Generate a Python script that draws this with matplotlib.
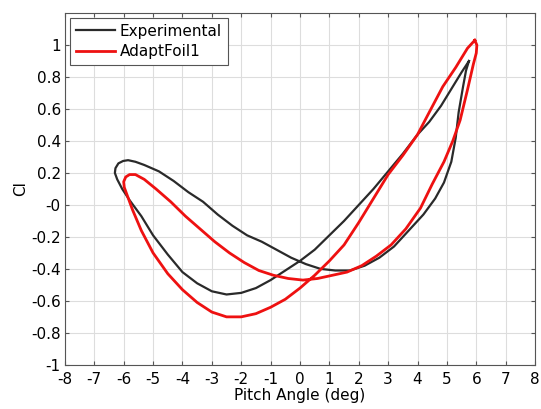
import numpy as np
import matplotlib
matplotlib.use("Agg")
import matplotlib.pyplot as plt

# Experimental loop (pitch angle, Cl), traced from the peak around the loop
exp_alpha = [5.75, 5.5, 5.2, 4.8, 4.4, 4.0, 3.5, 3.0, 2.5, 2.0, 1.5, 1.0, 0.5, 0.0,
             -0.5, -1.0, -1.5, -2.0, -2.5, -3.0, -3.5, -4.0, -4.5, -5.0, -5.4, -5.8,
             -6.05, -6.22, -6.3, -6.28, -6.18, -6.02, -5.85, -5.6, -5.3, -4.8, -4.3,
             -3.8, -3.3, -2.8, -2.3, -1.8, -1.3, -0.8, -0.3, 0.2, 0.7, 1.2, 1.7, 2.2,
             2.7, 3.2, 3.7, 4.2, 4.6, 4.9, 5.15, 5.3, 5.4, 5.55, 5.65, 5.75]
exp_cl = [0.90, 0.83, 0.74, 0.62, 0.52, 0.44, 0.32, 0.21, 0.10, 0.0, -0.10, -0.19,
          -0.28, -0.35, -0.41, -0.47, -0.52, -0.55, -0.56, -0.54, -0.49, -0.42, -0.31,
          -0.19, -0.07, 0.03, 0.10, 0.16, 0.20, 0.23, 0.26, 0.275, 0.28, 0.27, 0.25,
          0.21, 0.15, 0.08, 0.02, -0.06, -0.13, -0.19, -0.23, -0.28, -0.33, -0.37,
          -0.40, -0.41, -0.41, -0.38, -0.33, -0.26, -0.16, -0.06, 0.04, 0.14, 0.27,
          0.42, 0.58, 0.74, 0.84, 0.90]

# AdaptFoil1 loop
af_alpha = [5.95, 5.7, 5.3, 4.86, 4.4, 4.0, 3.5, 3.0, 2.5, 2.0, 1.5, 1.0, 0.5, 0.0,
            -0.5, -1.0, -1.5, -2.0, -2.5, -3.0, -3.5, -4.0, -4.5, -5.0, -5.4, -5.7,
            -5.88, -5.98, -6.0, -5.93, -5.8, -5.6, -5.3, -4.9, -4.4, -3.9, -3.4, -2.9,
            -2.4, -1.9, -1.4, -0.9, -0.4, 0.1, 0.6, 1.1, 1.6, 2.1, 2.6, 3.1, 3.6, 4.1,
            4.5, 4.9, 5.2, 5.45, 5.7, 5.9, 6.0, 6.02, 5.95]
af_cl = [1.03, 0.98, 0.86, 0.74, 0.58, 0.44, 0.31, 0.19, 0.04, -0.11, -0.25, -0.35,
         -0.44, -0.52, -0.59, -0.64, -0.68, -0.70, -0.70, -0.67, -0.61, -0.53, -0.43,
         -0.30, -0.16, -0.03, 0.06, 0.11, 0.145, 0.175, 0.19, 0.19, 0.16, 0.10, 0.02,
         -0.07, -0.15, -0.23, -0.30, -0.36, -0.41, -0.44, -0.46, -0.47, -0.46, -0.44,
         -0.42, -0.38, -0.32, -0.25, -0.15, -0.02, 0.13, 0.27, 0.40, 0.53, 0.72,
         0.88, 0.95, 1.0, 1.03]

x_ticks = np.arange(-8, 9, 1)
y_ticks = np.round(np.arange(-1, 1.01, 0.2), 1)

fig = plt.figure(figsize=(5.41, 4.09), dpi=100)
ax = fig.add_axes([0.120, 0.108, 0.869, 0.860])

ax.plot(exp_alpha, exp_cl, color="#2a2a2a", linewidth=1.6, label="Experimental")
ax.plot(af_alpha, af_cl, color="#ee1111", linewidth=2.0, label="AdaptFoil1")

ax.set_xlim(-8, 8)
ax.set_ylim(-1, 1.2)
ax.set_xticks(x_ticks)
ax.set_xticklabels([str(t) for t in x_ticks])
ax.set_yticks(y_ticks)
ax.set_yticklabels([f"{t:g}" for t in y_ticks])
ax.tick_params(direction="in", labelsize=11, length=3, top=True, right=True,
               color="#555555")
ax.tick_params(axis="x", pad=5)
ax.tick_params(axis="y", pad=3)
ax.grid(True, color="#dddddd", linewidth=0.8)
for s in ax.spines.values():
    s.set_color("#555555")

ax.set_xlabel("Pitch Angle (deg)", fontsize=11, labelpad=1)
ax.set_ylabel("Cl", fontsize=11, labelpad=2)

leg = ax.legend(loc="upper left", fontsize=11, fancybox=False, framealpha=1,
                edgecolor="#555555", borderaxespad=0.3, handlelength=2.6,
                handletextpad=0.3, borderpad=0.4, labelspacing=0.35)
leg.get_frame().set_linewidth(0.8)

fig.savefig("out.png", dpi=100)
